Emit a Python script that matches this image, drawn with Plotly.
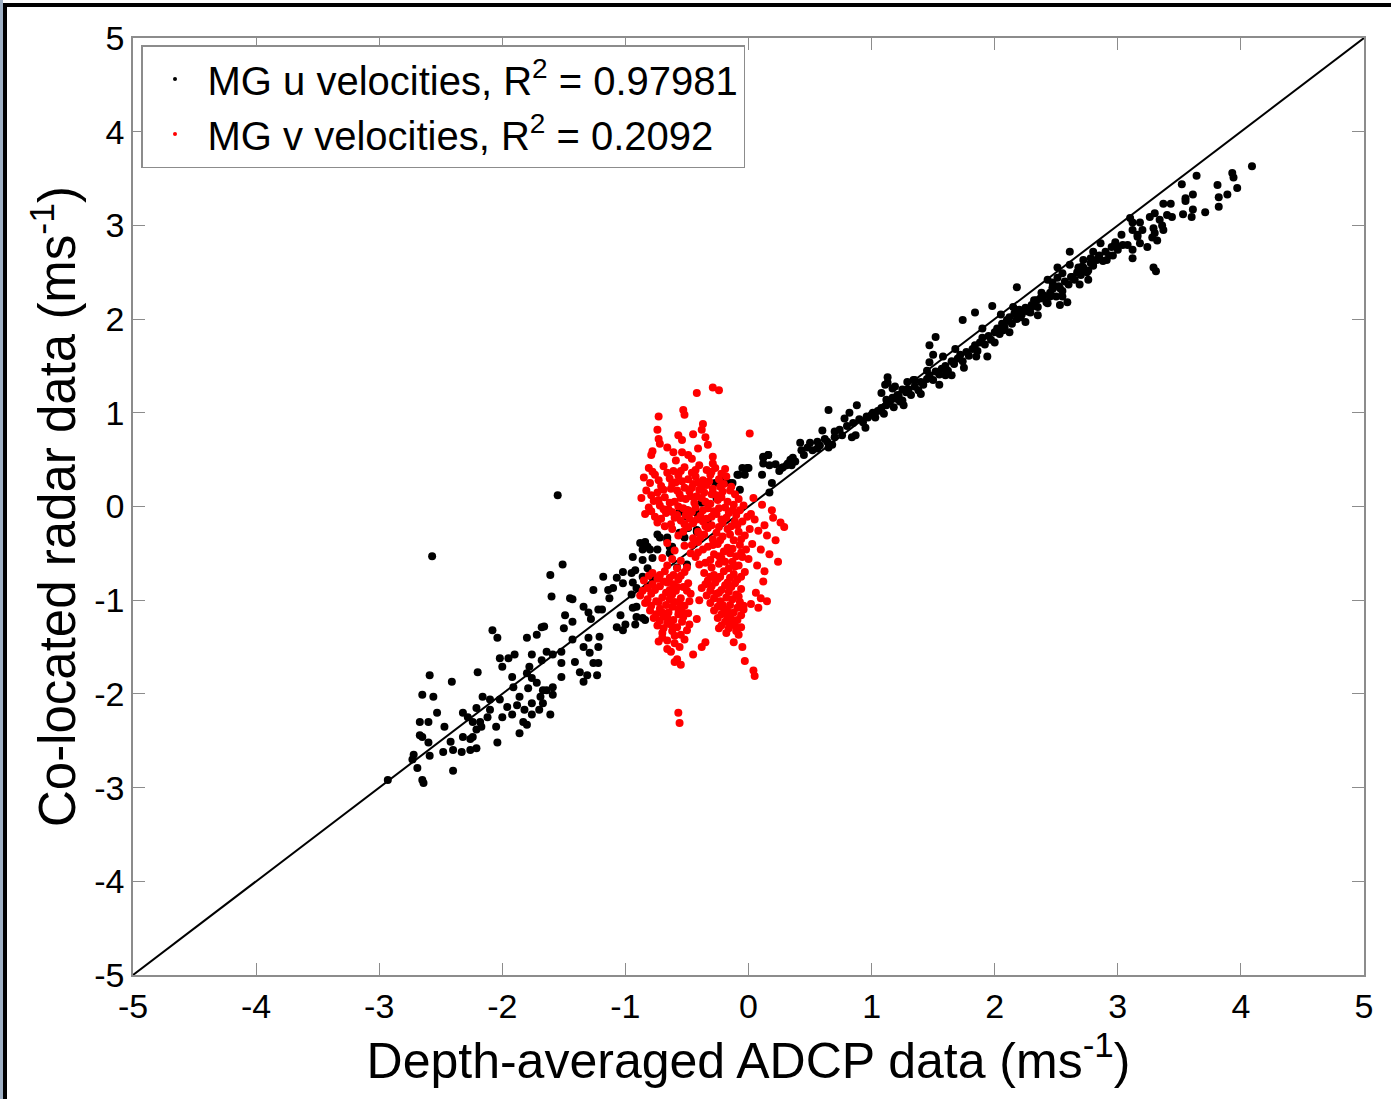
import plotly.graph_objects as go

# ---- data ----
u_points = [
    (-2.57,-0.53),(-1.55,0.12),
    (-1.51,-0.62),(-1.61,-0.73),(-1.60,-0.96),(-1.45,-0.98),(-1.43,-0.99),(-2.08,-1.32),(-2.04,-1.40),(-1.68,-1.29),(-1.66,-1.28),(-1.72,-1.37),(-1.49,-1.16),(-1.43,-1.23),(-1.50,-1.30),
    (-1.34,-1.07),(-1.30,-1.13),(-1.28,-1.20),(-1.22,-1.10),(-1.19,-1.10),
    (-1.26,-0.89),(-1.13,-0.98),(-1.10,-0.87),(-1.02,-0.70),(-0.95,-0.71),(-0.94,-0.81),(-1.02,-0.82),(-1.07,-0.76),(-1.14,-0.89),(-1.18,-0.75),
    (-0.88,-0.39),(-0.84,-0.39),(-0.80,-0.46),(-0.78,-0.55),(-0.86,-0.57),(-0.82,-0.66),
    (-0.91,-0.87),(-0.95,-0.94),(-0.94,-1.08),(-0.91,-1.18),(-0.84,-1.21),(-1.04,-1.16),(-1.07,-1.29),(-1.02,-1.32),(-1.00,-1.26),
    (-1.43,-1.42),(-1.34,-1.50),(-1.30,-1.40),(-1.29,-1.56),(-1.22,-1.50),(-1.21,-1.39),
    (-1.41,-1.66),(-1.37,-1.77),(-1.34,-1.87),(-1.31,-1.80),(-1.23,-1.80),(-1.26,-1.67),(-1.22,-1.67),
    (-1.64,-1.55),(-1.59,-1.58),(-1.52,-1.55),(-1.52,-1.67),(-1.52,-1.82),(-1.59,-1.93),(-1.64,-1.96),(-1.59,-2.01),(-1.69,-2.03),(-1.67,-2.10),(-1.61,-2.22),(-1.67,-1.96),
    (-1.80,-1.40),(-1.76,-1.58),(-1.68,-1.64),(-1.78,-1.71),(-1.80,-1.78),(-1.76,-1.83),(-1.72,-1.88),(-1.79,-1.94),(-1.76,-2.10),(-1.70,-2.17),(-1.76,-2.22),(-1.82,-2.17),(-1.83,-2.30),(-1.80,-2.33),
    (-2.02,-1.62),(-1.95,-1.62),(-1.90,-1.58),(-2.00,-1.71),(-1.92,-1.82),(-1.91,-1.93),(-1.86,-2.03),(-1.88,-2.12),(-1.96,-2.14),(-2.02,-2.06),(-1.92,-2.22),(-2.00,-2.25),(-2.05,-2.35),(-2.04,-2.52),(-1.86,-2.42),
    (-2.20,-1.77),(-2.21,-2.15),(-2.16,-2.03),(-2.10,-2.06),(-2.10,-2.17),(-2.12,-2.25),(-2.18,-2.30),(-2.17,-2.35),(-2.21,-2.38),(-2.24,-2.46),(-2.26,-2.48),(-2.32,-2.46),(-2.32,-2.20),(-2.28,-2.25),(-2.24,-2.30),
    (-2.41,-1.87),(-2.42,-2.51),(-2.47,-2.35),(-2.48,-2.62),(-2.40,-2.60),(-2.33,-2.62),(-2.26,-2.60),(-2.21,-2.58),
    (-2.59,-1.80),(-2.56,-2.03),(-2.65,-2.01),(-2.67,-2.30),(-2.60,-2.30),(-2.53,-2.20),(-2.67,-2.44),(-2.65,-2.46),(-2.60,-2.52),(-2.59,-2.66),(-2.72,-2.65),(-2.73,-2.70),(-2.69,-2.79),(-2.65,-2.92),(-2.64,-2.95),(-2.93,-2.92),(-2.40,-2.82),
    (-0.94,-0.54),(-0.92,-0.68),(-0.86,-0.46),(-0.84,-0.38),(-0.82,-0.43),(-0.74,-0.46),(-0.72,-0.33),(-0.66,-0.33),(-0.62,-0.43),(-0.64,-0.50),(-0.56,-0.30),(-0.52,-0.33),(-0.49,-0.23),(-0.42,-0.25),(-0.58,-0.65),(-0.50,-0.62),(-0.86,-0.75),(-0.78,-0.76),(-0.91,-1.07),(-0.86,-1.19),(-0.92,-1.26),(-0.82,-0.86),
    (-0.56,-0.06),(-0.50,-0.04),(-0.42,-0.07),(-0.38,0.04),(-0.33,-0.14),(-0.29,0.14),(-0.27,0.25),(-0.23,0.10),(-0.19,0.28),(-0.15,0.25),(-0.09,0.34),(0.00,0.41),(-0.03,0.34),(0.12,0.52),(0.16,0.55),(0.17,0.44),(0.11,0.34),(0.19,0.25),(0.28,0.42),(0.31,0.44),
    (-0.23,0.28),(-0.13,0.25),(-0.07,0.18),(-0.26,0.09),(-0.50,-0.11),(-0.42,-0.27),(-0.56,-0.28),(-0.74,-0.30),(-0.66,-0.36),(-0.64,-0.43),
    (0.65,1.03),(0.60,0.81),(0.88,1.08),(0.78,0.94),(0.82,1.00),(0.85,0.89),(0.84,0.74),(0.93,0.90),(0.96,0.96),(1.01,1.00),(0.95,0.84),(0.87,0.76),
    (0.42,0.68),(0.43,0.60),(0.50,0.68),(0.56,0.69),(0.56,0.62),(0.64,0.69),(0.65,0.63),(0.68,0.66),(0.70,0.74),(0.76,0.76),
    (0.12,0.53),(0.16,0.55),(0.27,0.41),(0.32,0.46),(0.34,0.50),(0.36,0.52),(0.12,0.46),(-0.05,0.41),(-0.01,0.41),(-0.08,0.34),(0.17,0.15),
    (1.08,1.21),(1.12,1.14),(1.17,1.16),(1.21,1.19),(1.23,1.12),(1.26,1.08),(1.19,1.28),(1.13,1.32),(1.29,1.33),(1.34,1.35),
    (0.45,0.55),(0.52,0.60),(0.58,0.65),(0.62,0.72),(0.70,0.80),(0.74,0.82),(0.80,0.86),(0.90,0.93),(0.97,0.95),(0.35,0.44),(0.38,0.48),(0.25,0.38),(0.22,0.45),(0.48,0.63),
    (1.00,0.98),(1.03,0.95),(1.05,1.02),(1.08,1.05),(1.10,0.99),(1.12,1.08),(1.15,1.12),(1.18,1.06),(1.20,1.15),(1.22,1.18),(1.25,1.13),(1.28,1.22),(1.30,1.25),(1.32,1.19),(1.35,1.28),(1.38,1.24),(1.40,1.33),(1.42,1.30),(1.45,1.36),(1.47,1.40),(1.50,1.35),(1.52,1.44),(1.55,1.41),(1.57,1.47),(1.60,1.50),(1.62,1.45),(1.65,1.55),(1.67,1.52),(1.70,1.58),(1.72,1.62),(1.74,1.55),(1.77,1.65),(1.79,1.61),(1.82,1.68),(1.84,1.72),(1.86,1.66),(1.88,1.75),(1.90,1.80),(1.92,1.73),(1.95,1.82),(1.97,1.78),(2.00,1.86),(2.02,1.90),(2.04,1.84),(2.06,1.95),(2.08,1.91),(2.10,1.98),(2.12,2.02),(2.14,1.95),(2.16,2.06),(2.18,2.00),(2.20,2.10),
    (1.13,1.38),(1.11,1.30),(1.17,1.26),(1.52,1.81),(1.47,1.72),(1.50,1.62),(1.47,1.54),(1.94,1.60),(1.74,1.99),(1.84,2.07),(1.98,2.14),(2.18,2.34),(1.35,1.35),(1.60,1.40),(1.75,1.48),(1.40,1.20),(1.68,1.68),(1.58,1.60),(1.90,1.90),(2.05,2.05),(1.25,1.25),(1.45,1.45),(1.55,1.30),(1.85,1.60),(2.00,1.75),(1.65,1.40),
    (2.22,2.05),(2.25,2.12),(2.27,2.08),(2.30,2.15),(2.32,2.20),(2.35,2.13),(2.37,2.22),(2.40,2.25),(2.42,2.18),(2.45,2.28),(2.47,2.32),(2.50,2.24),(2.52,2.35),(2.55,2.30),(2.57,2.40),(2.60,2.37),(2.62,2.45),(2.65,2.42),(2.67,2.50),(2.70,2.47),(2.72,2.55),(2.75,2.50),(2.78,2.60),(2.80,2.57),(2.83,2.63),(2.85,2.68),(2.88,2.62),(2.90,2.72),(2.93,2.68),(2.95,2.77),(2.98,2.80),
    (2.51,2.55),(2.55,2.49),(2.51,2.44),(2.43,2.42),(2.47,2.34),(2.53,2.33),(2.55,2.24),(2.59,2.18),(2.45,2.24),(2.38,2.28),(2.34,2.20),(2.30,2.13),(2.29,2.07),(2.26,2.10),(2.21,2.02),(2.15,2.13),(2.10,1.99),(2.07,1.88),(2.12,1.86),(2.25,1.97),(2.35,2.04),(2.43,2.17),(2.53,2.15),(2.47,2.39),(2.63,2.45),(2.68,2.55),(2.72,2.52),(2.61,2.58),
    (3.52,3.44),(3.64,3.53),(3.93,3.56),(3.94,3.51),(4.09,3.63),(3.97,3.40),(3.81,3.43),(3.82,3.30),(3.89,3.33),(3.82,3.20),(3.71,3.14),(3.61,3.33),(3.55,3.29),(3.55,3.26),(3.61,3.17),(3.60,3.09),(3.53,3.12),(3.43,3.23),(3.37,3.23),(3.44,3.09),(3.40,3.11),(3.30,3.13),(3.26,3.09),(3.34,3.06),(3.36,3.00),(3.37,2.95),(3.29,2.97),(3.30,2.92),(3.28,2.87),(3.32,2.84),(3.24,2.77),(3.18,2.81),(3.20,2.95),(3.16,2.88),(3.29,2.55),(3.31,2.51),(3.10,3.08),(3.12,3.03),(3.18,3.03),(3.12,2.95),(3.16,2.90),(3.03,2.90),(2.98,2.82),(3.04,2.79),(3.08,2.79),(3.12,2.74),(3.12,2.65),(3.00,2.74),(2.96,2.68),(2.91,2.63),(2.86,2.81),(2.80,2.72),(2.84,2.65),(2.78,2.65),(2.72,2.63),(2.71,2.56),(2.76,2.52),(2.76,2.42),(2.69,2.37),(2.61,2.72),
]

v_points = [
    (-0.29,1.27),(-0.24,1.24),(-0.42,1.21),(-0.53,1.03),(-0.52,0.98),(-0.73,0.96),(0.01,0.78),(-0.37,0.88),(-0.38,0.82),(-0.35,0.74),(-0.45,0.77),(-0.57,0.76),(-0.54,0.71),(-0.74,0.82),(-0.73,0.72),(-0.72,0.67),(-0.78,0.59),(-0.79,0.55),(-0.41,0.62),(-0.61,0.58),(-0.54,0.58),(-0.49,0.55),(-0.46,0.51),(-0.29,0.53),(-0.29,0.46),(-0.66,0.63),(-0.59,0.49),(-0.33,0.66),
    (-0.81,0.41),(-0.69,0.43),(-0.61,0.38),(-0.52,0.42),(-0.46,0.36),(-0.40,0.44),(-0.34,0.39),(-0.27,0.41),(-0.22,0.35),
    (-0.85,0.31),(-0.76,0.34),(-0.64,0.30),(-0.57,0.33),(-0.49,0.29),(-0.43,0.32),(-0.37,0.28),(-0.31,0.34),(-0.24,0.29),(-0.18,0.32),
    (-0.80,0.25),(-0.71,0.22),(-0.59,0.26),(-0.52,0.20),(-0.45,0.24),(-0.40,0.18),(-0.34,0.23),(-0.29,0.19),(-0.20,0.24),(-0.14,0.21),
    (-0.83,0.17),(-0.74,0.15),(-0.63,0.19),(-0.56,0.13),(-0.48,0.16),(-0.42,0.11),(-0.36,0.15),(-0.26,0.12),(-0.21,0.16),(-0.11,0.13),
    (-0.87,0.09),(-0.77,0.06),(-0.68,0.10),(-0.60,0.05),(-0.51,0.08),(-0.44,0.04),(-0.38,0.09),(-0.31,0.03),(-0.25,0.07),(-0.17,0.05),(-0.08,0.08),
    (-0.81,-0.01),(-0.72,0.01),(-0.65,-0.03),(-0.57,0.00),(-0.49,-0.04),(-0.43,-0.01),(-0.33,-0.02),(-0.28,-0.05),(-0.19,-0.01),(-0.13,-0.04),(-0.04,0.01),
    (-0.84,-0.08),(-0.76,-0.11),(-0.67,-0.07),(-0.60,-0.12),(-0.51,-0.09),(-0.39,-0.10),(-0.34,-0.13),(-0.26,-0.08),(-0.18,-0.12),(-0.10,-0.09),(-0.01,-0.11),
    (-0.74,-0.17),(-0.63,-0.19),(-0.55,-0.15),(-0.45,-0.18),(-0.37,-0.16),(-0.30,-0.20),(-0.21,-0.17),(-0.14,-0.21),(-0.05,-0.16),(0.05,-0.14),
    (0.04,0.09),(0.11,0.02),(0.19,-0.04),(0.26,-0.17),(0.29,-0.22),(0.08,-0.26),(0.15,-0.31),(0.22,-0.36),(0.03,-0.40),(0.10,-0.46),(0.17,-0.51),(0.00,-0.56),(0.07,-0.63),(0.24,-0.59),(0.13,-0.69),(0.20,-0.12),(0.13,-0.20),
    (-0.62,-0.24),(-0.49,-0.22),(-0.41,-0.27),(-0.33,-0.23),(-0.26,-0.28),(-0.17,-0.24),(-0.08,-0.27),
    (-0.57,-0.31),(-0.45,-0.34),(-0.36,-0.30),(-0.29,-0.35),(-0.21,-0.32),(-0.12,-0.36),(-0.03,-0.31),
    (-0.66,-0.39),(-0.52,-0.42),(-0.41,-0.38),(-0.33,-0.43),(-0.25,-0.40),(-0.17,-0.44),(-0.07,-0.41),
    (-0.60,-0.47),(-0.47,-0.50),(-0.37,-0.46),(-0.28,-0.51),(-0.20,-0.48),(-0.10,-0.53),
    (-0.70,-0.55),(-0.55,-0.58),(-0.43,-0.54),(-0.31,-0.57),(-0.22,-0.55),(-0.13,-0.59),(-0.05,-0.54),
    (-0.66,-0.63),(-0.58,-0.66),(-0.40,-0.62),(-0.30,-0.65),(-0.24,-0.61),(-0.16,-0.66),(-0.08,-0.63),
    (-0.78,-0.71),(-0.68,-0.69),(-0.61,-0.73),(-0.52,-0.70),
    (-0.85,-0.79),(-0.74,-0.77),(-0.66,-0.81),(-0.57,-0.78),(-0.49,-0.82),
    (-0.82,-0.87),(-0.72,-0.85),(-0.64,-0.89),(-0.58,-0.86),(-0.50,-0.90),
    (-0.88,-0.95),(-0.79,-0.93),(-0.70,-0.97),(-0.62,-0.94),(-0.55,-0.98),(-0.47,-0.93),
    (-0.84,-1.03),(-0.75,-1.01),(-0.67,-1.05),(-0.60,-1.02),(-0.52,-1.06),
    (-0.80,-1.11),(-0.72,-1.09),(-0.65,-1.13),(-0.57,-1.10),(-0.49,-1.14),
    (-0.77,-1.19),(-0.69,-1.17),(-0.61,-1.21),(-0.53,-1.18),
    (-0.74,-1.27),(-0.66,-1.25),(-0.58,-1.29),(-0.48,-1.26),
    (-0.70,-1.35),(-0.62,-1.33),(-0.55,-1.37),
    (-0.73,-1.44),(-0.60,-1.46),(-0.52,-1.42),
    (-0.63,-1.55),(-0.58,-1.63),(-0.55,-1.69),(-0.60,-1.66),(-0.45,-1.58),(-0.57,-2.20),(-0.56,-2.31),(-0.38,-1.50),(-0.66,-1.52),(-0.70,-1.40),
    (-0.36,-0.71),(-0.28,-0.73),(-0.20,-0.69),(-0.12,-0.72),(-0.03,-0.70),
    (-0.33,-0.79),(-0.25,-0.77),(-0.17,-0.81),(-0.09,-0.78),
    (-0.38,-0.87),(-0.30,-0.85),(-0.22,-0.89),(-0.14,-0.86),(-0.06,-0.88),
    (-0.34,-0.95),(-0.26,-0.93),(-0.18,-0.97),(-0.10,-0.94),
    (-0.31,-1.03),(-0.23,-1.01),(-0.15,-1.05),(-0.07,-1.02),(0.02,-1.04),
    (-0.28,-1.11),(-0.20,-1.09),(-0.12,-1.13),(-0.04,-1.10),
    (-0.25,-1.19),(-0.17,-1.17),(-0.09,-1.21),
    (-0.22,-1.27),(-0.14,-1.25),(-0.06,-1.29),
    (-0.18,-1.35),(-0.10,-1.33),
    (0.10,-0.98),(0.15,-1.01),(-0.05,-1.50),(-0.03,-1.65),(0.04,-1.75),(0.05,-1.81),(-0.12,-1.45),(-0.35,-1.45),(0.12,-0.80),(-0.42,-1.20),(-0.40,-1.00),
    (-0.78,0.37),(-0.66,0.36),(-0.55,0.38),(-0.43,0.39),(-0.30,0.37),(-0.19,0.40),
    (-0.73,0.28),(-0.62,0.24),(-0.54,0.27),(-0.41,0.26),(-0.32,0.27),(-0.23,0.21),
    (-0.79,0.12),(-0.69,0.18),(-0.58,0.17),(-0.46,0.20),(-0.38,0.20),(-0.30,0.13),(-0.15,0.17),
    (-0.73,0.07),(-0.64,0.04),(-0.55,0.09),(-0.47,0.11),(-0.35,0.05),(-0.22,0.10),(-0.12,0.02),
    (-0.79,-0.05),(-0.69,-0.03),(-0.62,-0.06),(-0.53,-0.02),(-0.46,-0.06),(-0.37,-0.04),(-0.24,-0.02),(-0.16,-0.07),(-0.07,-0.04),
    (-0.71,-0.13),(-0.58,-0.09),(-0.48,-0.13),(-0.42,-0.14),(-0.30,-0.11),(-0.22,-0.14),(-0.11,-0.16),(0.02,-0.08),
    (-0.68,-0.21),(-0.52,-0.19),(-0.35,-0.21),(-0.24,-0.22),(-0.09,-0.20),(0.01,-0.24),
    (-0.53,-0.27),(-0.39,-0.33),(-0.23,-0.36),(-0.15,-0.30),(-0.06,-0.35),(-0.46,-0.41),(-0.29,-0.41),(-0.13,-0.45),(-0.02,-0.46),(-0.41,-0.49),(-0.24,-0.53),(-0.15,-0.50),(-0.06,-0.49),(-0.62,-0.56),(-0.35,-0.60),(-0.19,-0.59),(-0.11,-0.64),(-0.50,-0.65),
    (-0.81,-0.74),(-0.72,-0.73),(-0.64,-0.76),(-0.55,-0.74),(-0.78,-0.83),(-0.69,-0.80),(-0.61,-0.83),(-0.53,-0.86),(-0.86,-0.90),(-0.76,-0.89),(-0.67,-0.92),(-0.59,-0.90),(-0.82,-0.99),(-0.73,-1.02),(-0.64,-0.99),(-0.56,-1.03),(-0.48,-1.01),(-0.79,-1.06),(-0.70,-1.13),(-0.62,-1.07),(-0.54,-1.12),(-0.75,-1.15),(-0.66,-1.19),(-0.57,-1.15),(-0.72,-1.22),(-0.63,-1.26),(-0.54,-1.23),(-0.69,-1.30),(-0.60,-1.38),(-0.66,-1.43),(-0.56,-1.50),(-0.50,-1.32),
    (-0.31,-0.75),(-0.23,-0.75),(-0.15,-0.76),(-0.06,-0.75),(-0.35,-0.83),(-0.27,-0.81),(-0.19,-0.84),(-0.11,-0.82),(-0.31,-0.90),(-0.24,-0.92),(-0.16,-0.91),(-0.08,-0.96),(-0.28,-0.98),(-0.21,-1.05),(-0.13,-0.99),(-0.04,-1.06),(-0.25,-1.07),(-0.17,-1.12),(-0.09,-1.08),(-0.22,-1.15),(-0.14,-1.20),(-0.06,-1.16),(-0.19,-1.23),(-0.11,-1.27),(-0.16,-1.30),(-0.08,-1.37),(-0.24,-1.30),(0.06,-0.92),(0.08,-1.08),
]

u_adcp = [p[0] for p in u_points]
u_radar = [p[1] for p in u_points]
v_adcp = [p[0] for p in v_points]
v_radar = [p[1] for p in v_points]

one_to_one = [-5, 5]
tick_vals = [-5, -4, -3, -2, -1, 0, 1, 2, 3, 4, 5]
tick_text = ["-5", "-4", "-3", "-2", "-1", "0", "1", "2", "3", "4", "5"]
u_label = "MG u velocities, R<sup>2</sup> = 0.97981"
v_label = "MG v velocities, R<sup>2</sup> = 0.2092"
x_title = "Depth-averaged ADCP data (ms<sup>-1</sup>)"
y_title = "Co-located radar data (ms<sup>-1</sup>)"

FONT = "Liberation Sans, Arial, sans-serif"

fig = go.Figure()
fig.add_trace(go.Scatter(x=one_to_one, y=one_to_one, mode="lines",
                         line=dict(color="black", width=2), showlegend=False, hoverinfo="skip"))
fig.add_trace(go.Scatter(x=u_adcp, y=u_radar, mode="markers",
                         marker=dict(color="black", size=8), showlegend=False))
fig.add_trace(go.Scatter(x=v_adcp, y=v_radar, mode="markers",
                         marker=dict(color="#ff0000", size=8), showlegend=False))
# legend entries (small dots as in the original)
fig.add_trace(go.Scatter(x=[None], y=[None], mode="markers", name=u_label,
                         marker=dict(color="black", size=4)))
fig.add_trace(go.Scatter(x=[None], y=[None], mode="markers", name=v_label,
                         marker=dict(color="#ff0000", size=4)))

L, R, T, B = 133, 27, 38, 124
W, H = 1391, 1099
pw, ph = W - L - R, H - T - B

def px(xp):
    return (xp - L) / pw

def py(yp):
    return 1 - (yp - T) / ph

axis_common = dict(range=[-5, 5], tickvals=tick_vals, ticktext=tick_text, ticks="inside", ticklen=12,
                   tickcolor="#8c8c8c", tickwidth=1, showline=True, linecolor="#8c8c8c",
                   linewidth=1.5, mirror="ticks", showgrid=False, zeroline=False,
                   tickfont=dict(family=FONT, size=34, color="black"))

fig.update_layout(
    width=W, height=H,
    margin=dict(l=L, r=R, t=T, b=B, autoexpand=False),
    paper_bgcolor="white", plot_bgcolor="white",
    font=dict(family=FONT, color="black"),
    xaxis=dict(**axis_common,
               title=dict(text=x_title, font=dict(family=FONT, size=50, color="black"), standoff=18)),
    yaxis=dict(**axis_common,
               title=dict(text=y_title, font=dict(family=FONT, size=51, color="black"), standoff=2)),
    legend=dict(x=px(141), y=py(45), xanchor="left", yanchor="top",
                bgcolor="white", bordercolor="#8c8c8c", borderwidth=1.5,
                font=dict(family=FONT, size=40, color="black"),
                itemwidth=55, tracegroupgap=0),
    shapes=[
        dict(type="rect", xref="paper", yref="paper", x0=px(0), x1=px(3), y0=py(1099), y1=py(0),
             fillcolor="#9fb0c4", line=dict(width=0), layer="above"),
        dict(type="line", xref="paper", yref="paper", x0=px(5), x1=px(5), y0=py(1099), y1=py(3),
             line=dict(color="black", width=4), layer="above"),
        dict(type="line", xref="paper", yref="paper", x0=px(3), x1=px(1391), y0=py(5), y1=py(5),
             line=dict(color="black", width=4), layer="above"),
    ],
)

fig.write_html("out.html")
